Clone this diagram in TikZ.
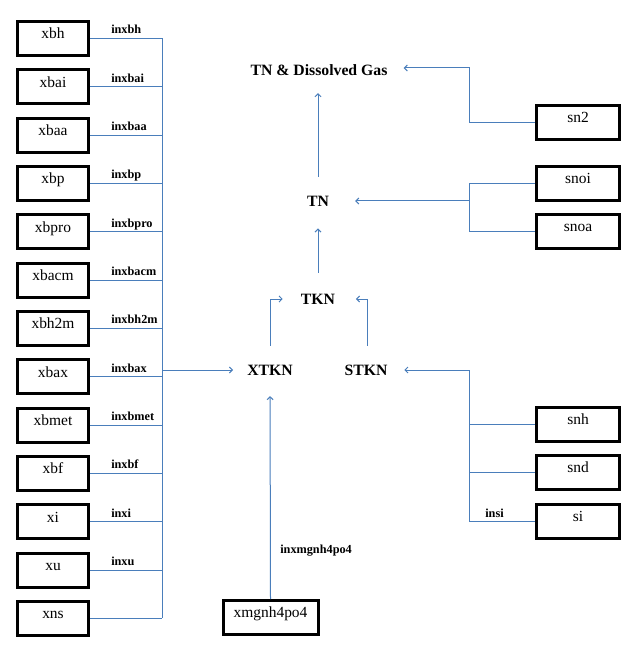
\documentclass[tikz,border=0pt]{standalone}
\usepackage{fontspec}
\setmainfont{Liberation Serif}
\usetikzlibrary{arrows.meta,calc}
\definecolor{conncol}{HTML}{4A7EBB}
\begin{document}
\begin{tikzpicture}[x=0.75pt,y=-0.75pt,
  box/.style={draw=black,line width=2.25pt,inner sep=0pt,minimum width=53.25pt,
    text height=13.1pt,text depth=12.4pt,font=\fontsize{11.6}{13}\selectfont},
  rbox/.style={box,minimum width=62.25pt},
  mbox/.style={box,minimum width=71.25pt},
  ttl/.style={inner sep=0pt,font=\fontsize{11.8}{14}\selectfont\bfseries},
  lab/.style={inner sep=0pt,font=\fontsize{9.2}{11}\selectfont\bfseries},
  conn/.style={draw=conncol,line width=0.75pt},
  arr/.style={conn,-{Straight Barb[length=2.2pt,width=4.5pt]}}]
\useasboundingbox (0,0) rectangle (632,666);
\coordinate (bus) at (162,0);
\coordinate (rbus) at (469,0);
% left boxes
\foreach \n/\l [count=\i from 0] in {xbh/inxbh,xbai/inxbai,xbaa/inxbaa,xbp/inxbp,xbpro/inxbpro,xbacm/inxbacm,xbh2m/inxbh2m,xbax/inxbax,xbmet/inxbmet,xbf/inxbf,xi/inxi,xu/inxu,xns/{}}{
  \node[box] (\n) at (53,{38.5+48.33*\i}) {\n};
  \draw[conn] (\n.east) -- (\n.east -| bus);
}
\foreach \n/\l [count=\i from 0] in {xbh/inxbh,xbai/inxbai,xbaa/inxbaa,xbp/inxbp,xbpro/inxbpro,xbacm/inxbacm,xbh2m/inxbh2m,xbax/inxbax,xbmet/inxbmet,xbf/inxbf,xi/inxi,xu/inxu}{
  \node[lab,anchor=base west] (l\n) at (111,{38.5+48.33*\i-4.5}) {\l};
}
\draw[conn] (xbh.east -| bus) -- (xns.east -| bus);
% title nodes
\node[ttl] (XTKN) at (270,370) {XTKN};
\node[ttl] (STKN) at (366,370) {STKN};
\node[ttl] (TKN) at (318,299) {TKN};
\node[ttl] (TN) at (318,201) {TN};
\node[ttl] (TNDG) at (319,70) {TN \& Dissolved Gas};
% bottom box
\node[mbox] (xm) at (270.5,617.5) {xmgnh4po4};
\node[lab,anchor=west] (lxm) at (280,551) {inxmgnh4po4};
% right boxes
\node[rbox] (sn2) at (578,122.5) {sn2};
\node[rbox] (snoi) at (578,183.5) {snoi};
\node[rbox] (snoa) at (578,231.5) {snoa};
\node[rbox] (snh) at (578,424.5) {snh};
\node[rbox] (snd) at (578,472.5) {snd};
\node[rbox] (si) at (578,521.5) {si};
\node[lab,anchor=base west] (lsi) at (485,517) {insi};
% connectors
\draw[arr,shorten >=10.5pt] (bus |- XTKN.west) -- (XTKN.west);
\draw[arr,shorten >=15.5pt] (xm.north) -- (XTKN.south);
\draw[arr,shorten <=14pt,shorten >=13.5pt] (XTKN.north) |- (TKN.west);
\draw[arr,shorten <=14pt,shorten >=15.5pt] ([xshift=0.75pt]STKN.north) |- (TKN.east);
\draw[arr,shorten <=15.5pt,shorten >=16.5pt] (TKN.north) -- (TN.south);
\draw[arr,shorten <=14pt,shorten >=13pt] (TN.north) -- (TN.north |- TNDG.south);
\draw[arr,shorten >=12pt] (sn2.west) -- (sn2.west -| rbus) |- ([yshift=1.5pt]TNDG.east);
\draw[conn] (snoi.west) -- (snoi.west -| rbus) -- (snoa.west -| rbus) -- (snoa.west);
\draw[arr,shorten >=19.5pt] (rbus |- TN.east) -- (TN.east);
\draw[conn] (snh.west) -- (snh.west -| rbus);
\draw[conn] (snd.west) -- (snd.west -| rbus);
\draw[conn] (si.west) -- (si.west -| rbus) -- (rbus |- STKN.east);
\draw[arr,shorten >=12.5pt] (rbus |- STKN.east) -- (STKN.east);
\end{tikzpicture}
\end{document}
